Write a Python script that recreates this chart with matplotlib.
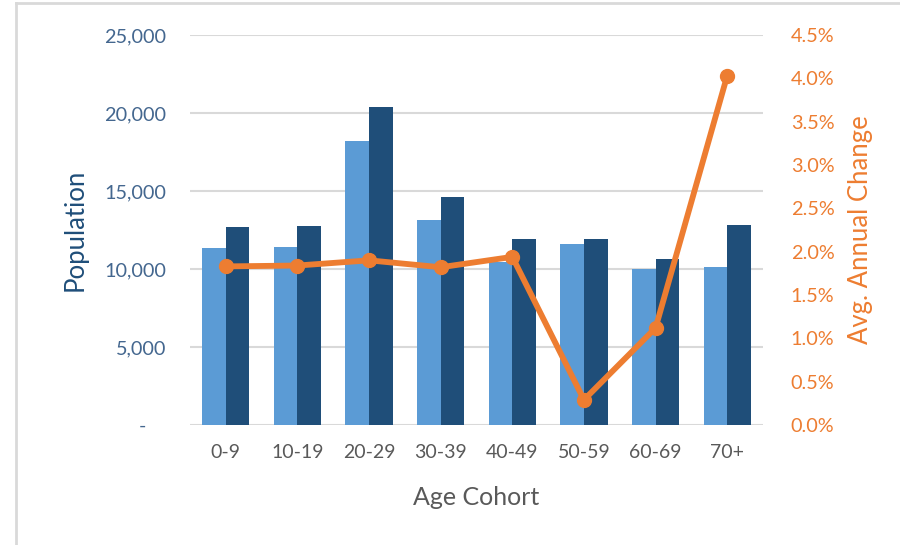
import numpy as np
import matplotlib.pyplot as plt
from matplotlib.lines import Line2D
from matplotlib.ticker import FuncFormatter

plt.rcParams['font.family'] = ['Lato', 'DejaVu Sans']

cohorts = ["0-9", "10-19", "20-29", "30-39", "40-49", "50-59", "60-69", "70+"]
pop_earlier = [11370, 11430, 18190, 13120, 10480, 11620, 9980, 10150]
pop_later = [12670, 12760, 20390, 14600, 11900, 11900, 10660, 12840]
annual_change = [1.83, 1.84, 1.90, 1.82, 1.94, 0.29, 1.12, 4.03]

light_blue = "#5B9BD5"
dark_blue = "#1F4E79"
orange = "#ED7D31"
grid_gray = "#D9D9D9"
text_gray = "#595959"
axis_blue = "#44678F"

fig = plt.figure(figsize=(9, 5.45), dpi=100)
ax = fig.add_axes([190 / 900, 1 - 425 / 545, 573 / 900, 390 / 545])

x = np.arange(len(cohorts))
w = 0.33
ax.bar(x - w / 2, pop_earlier, w, color=light_blue, zorder=2)
ax.bar(x + w / 2, pop_later, w, color=dark_blue, zorder=2)

ax.set_xlim(-0.5, len(cohorts) - 0.5)
ax.set_ylim(0, 25000)
ax.set_yticks(np.arange(0, 25001, 5000))
ax.yaxis.set_major_formatter(FuncFormatter(lambda v, p: "-    " if v == 0 else f"{v:,.0f}"))
ax.grid(axis="y", color=grid_gray, linewidth=1.5, zorder=0)
ax.set_axisbelow(True)
for s in ax.spines.values():
    s.set_visible(False)
ax.tick_params(axis="both", length=0)
ax.tick_params(axis="y", labelsize=14.3, labelcolor=axis_blue, pad=17)
ax.tick_params(axis="x", labelsize=14, labelcolor=text_gray, pad=14)
ax.set_xticks(x)
ax.set_xticklabels(cohorts)
ax.set_xlabel("Age Cohort", fontsize=18, color=text_gray, labelpad=18)
ax.set_ylabel("Population", fontsize=18.5, color=dark_blue, labelpad=12)

ax2 = ax.twinx()
ax2.plot(x, annual_change, color=orange, linewidth=4.2, marker="o",
         markersize=10, zorder=3, solid_joinstyle="round")
ax2.set_ylim(0, 4.5)
ax2.set_yticks(np.arange(0, 4.51, 0.5))
ax2.yaxis.set_major_formatter(FuncFormatter(lambda v, p: f"{v:.1f}%"))
for s in ax2.spines.values():
    s.set_visible(False)
ax2.tick_params(axis="y", length=0, labelsize=14.3, labelcolor=orange, pad=20)
ax2.set_ylabel("Avg. Annual Change", fontsize=18.5, color=orange, labelpad=10)

# outer chart frame
fig.add_artist(Line2D([16 / 900, 1], [1 - 3 / 545, 1 - 3 / 545], color=grid_gray, linewidth=2))
fig.add_artist(Line2D([16 / 900, 16 / 900], [0, 1 - 3 / 545], color=grid_gray, linewidth=2))

fig.savefig("out.png", dpi=100)
